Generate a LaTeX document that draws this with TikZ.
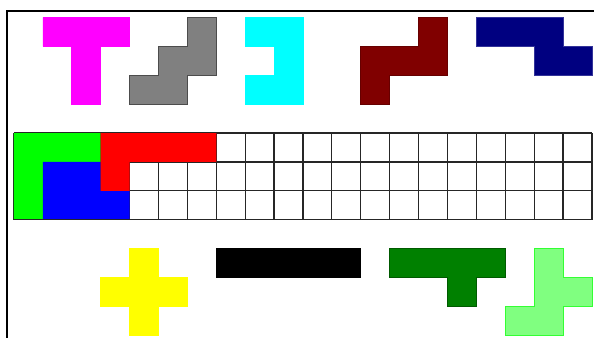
\documentclass[tikz,border=0pt]{standalone}
\usepackage{amsfonts, amssymb, amsmath}
\usepackage{tikz}

\definecolor{pentMagenta}{RGB}{255,0,255}
\definecolor{pentGray}{RGB}{128,128,128}
\definecolor{pentCyan}{RGB}{0,255,255}
\definecolor{pentMaroon}{RGB}{128,0,0}
\definecolor{pentNavy}{RGB}{0,0,128}
\definecolor{pentLime}{RGB}{0,255,0}
\definecolor{pentBlue}{RGB}{0,0,255}
\definecolor{pentRed}{RGB}{255,0,0}
\definecolor{pentYellow}{RGB}{255,255,0}
\definecolor{pentDark}{RGB}{0,128,0}
\definecolor{pentLight}{RGB}{128,255,128}

\tikzset{
    piece/.style={line width=0.35pt, line join=miter},
    gridline/.style={line width=0.6pt, black!85}
}

\begin{document}
\begin{tikzpicture}[x=0.5cm, y=0.5cm]
    \useasboundingbox (-0.484, -7.093) rectangle (20.07, 4.602);
    % frame
    \draw[line width=0.9pt] (-0.242, -7.093) -- (-0.242, 4.221) -- (20.07, 4.221);

    % top row of pieces
    \filldraw[piece, fill=pentMagenta, draw=pentMagenta] (1,4) -- (4,4) -- (4,3) -- (3,3) -- (3,1) -- (2,1) -- (2,3) -- (1,3) -- cycle;
    \filldraw[piece, fill=pentGray, draw=black!70] (6,4) -- (7,4) -- (7,2) -- (6,2) -- (6,1) -- (4,1) -- (4,2) -- (5,2) -- (5,3) -- (6,3) -- cycle;
    \filldraw[piece, fill=pentCyan, draw=pentCyan] (8,4) -- (10,4) -- (10,1) -- (8,1) -- (8,2) -- (9,2) -- (9,3) -- (8,3) -- cycle;
    \filldraw[piece, fill=pentMaroon, draw=pentMaroon!80!black] (14,4) -- (15,4) -- (15,2) -- (13,2) -- (13,1) -- (12,1) -- (12,3) -- (14,3) -- cycle;
    \filldraw[piece, fill=pentNavy, draw=pentNavy!80!white] (16,4) -- (19,4) -- (19,3) -- (20,3) -- (20,2) -- (18,2) -- (18,3) -- (16,3) -- cycle;

    % board 20 x 3
    \foreach \i in {0,...,20}
        \draw[gridline] (\i,0) -- (\i,-3);
    \foreach \j in {0,...,3}
        \draw[gridline] (0,-\j) -- (20,-\j);
    \fill[pentLime] (0,0) -- (3,0) -- (3,-1) -- (1,-1) -- (1,-3) -- (0,-3) -- cycle;
    \fill[pentBlue] (1,-1) -- (3,-1) -- (3,-2) -- (4,-2) -- (4,-3) -- (1,-3) -- cycle;
    \fill[pentRed] (3,0) -- (7,0) -- (7,-1) -- (4,-1) -- (4,-2) -- (3,-2) -- cycle;
    \draw[gridline] (0,-3) -- (4,-3);

    % bottom row of pieces
    \filldraw[piece, fill=pentYellow, draw=pentYellow] (4,-4) -- (5,-4) -- (5,-5) -- (6,-5) -- (6,-6) -- (5,-6) -- (5,-7) -- (4,-7) -- (4,-6) -- (3,-6) -- (3,-5) -- (4,-5) -- cycle;
    \filldraw[piece, fill=black, draw=black] (7,-4) rectangle (12,-5);
    \filldraw[piece, fill=pentDark, draw=pentDark!70!black] (13,-4) -- (17,-4) -- (17,-5) -- (16,-5) -- (16,-6) -- (15,-6) -- (15,-5) -- (13,-5) -- cycle;
    \filldraw[piece, fill=pentLight, draw=pentLime!80!white] (18,-4) -- (19,-4) -- (19,-5) -- (20,-5) -- (20,-6) -- (19,-6) -- (19,-7) -- (17,-7) -- (17,-6) -- (18,-6) -- cycle;
\end{tikzpicture}
\end{document}
